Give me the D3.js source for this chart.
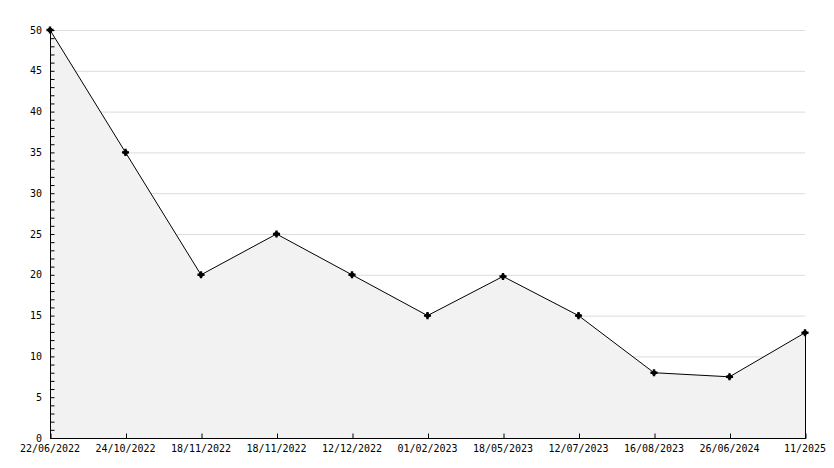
<!DOCTYPE html>
<html><head><meta charset="utf-8">
<script src="https://cdn.jsdelivr.net/npm/d3@7"></script>
<style>body{margin:0;background:#fff}svg{display:block}text{font-family:"DejaVu Sans Mono",monospace;font-size:10px;fill:#000}</style>
</head><body><svg id="c" width="834" height="468"></svg>
<script>
const categories = ["22/06/2022","24/10/2022","18/11/2022","18/11/2022","12/12/2022","01/02/2023","18/05/2023","12/07/2023","16/08/2023","26/06/2024","11/2025"];
const values = [50, 35, 20, 25, 20, 15, 19.8, 15, 8, 7.5, 12.9];
const yTicks = [0,5,10,15,20,25,30,35,40,45,50];

const svg = d3.select("#c");
const L = 50, R = 805, T = 30, B = 438;
const x = d3.scalePoint().domain(d3.range(categories.length)).range([L, R]);
const y = d3.scaleLinear().domain([0, 50]).range([B, T]);

// gridlines
svg.append("g").selectAll("line").data(yTicks.filter(d => d > 0)).join("line")
  .attr("x1", L).attr("x2", R).attr("y1", d => y(d) + 0.5).attr("y2", d => y(d) + 0.5)
  .attr("stroke", "#dcdcdc").attr("stroke-width", 1);

// area
const area = d3.area().x((d, i) => x(i)).y0(B).y1(d => y(d));
svg.append("path").datum(values).attr("d", area).attr("fill", "#f2f2f2");

// line
const line = d3.line().x((d, i) => x(i)).y(d => y(d));
svg.append("path").datum(values).attr("d", line).attr("fill", "none").attr("stroke", "#000").attr("stroke-width", 1);
const last = values.length - 1;
svg.append("line").attr("x1", x(last) + 0.5).attr("x2", x(last) + 0.5)
  .attr("y1", y(values[last])).attr("y2", B).attr("stroke", "#000");

// y axis
const yAxis = d3.axisRight(y).tickValues(d3.range(0, 51, 1)).tickSize(4).tickFormat("");
const gy = svg.append("g").attr("transform", `translate(${L + 0.5},0)`).call(yAxis);
gy.select(".domain").remove();
svg.append("line").attr("x1", L + 0.5).attr("x2", L + 0.5).attr("y1", T).attr("y2", B).attr("stroke", "#000");
svg.append("g").selectAll("text").data(yTicks).join("text")
  .attr("x", 42).attr("y", d => y(d)).attr("dy", "0.35em").attr("text-anchor", "end").text(d => d);

// x axis
const xAxis = d3.axisTop(x).tickSize(5).tickFormat("");
const gx = svg.append("g").attr("transform", `translate(0,${B + 0.5})`).call(xAxis);
gx.select(".domain").remove();
gx.selectAll(".tick line").attr("transform", "translate(0.5,0)");
svg.append("line").attr("x1", L).attr("x2", R + 1).attr("y1", B + 0.5).attr("y2", B + 0.5).attr("stroke", "#000");
svg.append("g").selectAll("text").data(categories).join("text")
  .attr("x", (d, i) => x(i)).attr("y", 452).attr("text-anchor", "middle").text(d => d);

// markers
const mk = svg.append("g").selectAll("g").data(values).join("g")
  .attr("transform", (d, i) => `translate(${x(i)},${y(d)})`);
mk.append("path").attr("d", d3.symbol(d3.symbolCross, 28)).attr("fill", "#000");
mk.append("path").attr("d", d3.symbol(d3.symbolSquare, 18)).attr("transform", "rotate(45)").attr("fill", "#000");
mk.append("circle").attr("r", 2.3).attr("fill", "#000");
</script></body></html>
